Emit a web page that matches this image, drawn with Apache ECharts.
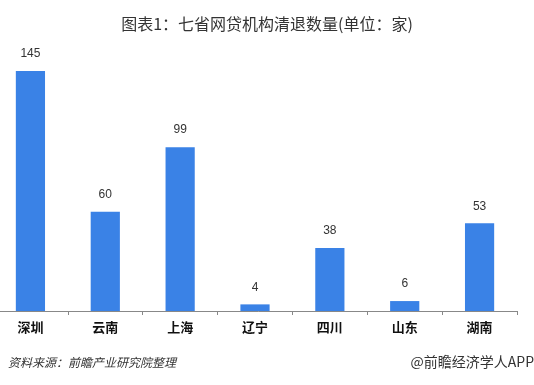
<!DOCTYPE html>
<html><head><meta charset="utf-8">
<script src="https://cdn.jsdelivr.net/npm/echarts@6/dist/echarts.min.js"></script>
<style>html,body{margin:0;padding:0;background:#fff}#c{width:534px;height:385px}</style>
</head><body><div id="c"></div>
<script>
const categories = ['深圳','云南','上海','辽宁','四川','山东','湖南'];
const values = [145, 60, 99, 4, 38, 6, 53];
const titleText = '图表1：七省网贷机构清退数量(单位：家)';
const sourceText = '资料来源：前瞻产业研究院整理';
const brandText = '@前瞻经济学人APP';

const chart = echarts.init(document.getElementById('c'), null, {renderer:'canvas'});
chart.setOption({
  backgroundColor: '#fff',
  animation: false,
  title: {
    text: titleText, left: 'center', top: 11,
    textStyle: {fontSize: 16, fontWeight: 'normal', color: '#333', fontFamily: 'Noto Sans CJK SC'}
  },
  grid: {left: -7, right: 17, top: 71, bottom: 74, containLabel: false, outerBoundsMode: 'none'},
  xAxis: {
    type: 'category', data: categories,
    axisLine: {lineStyle: {color: '#888', width: 1}},
    axisTick: {show: true, length: 4, lineStyle: {color: '#888'}},
    axisLabel: {fontSize: 13, fontWeight: 'bold', color: '#111', margin: 10, fontFamily: 'Noto Sans CJK SC'}
  },
  yAxis: {type: 'value', min: 0, max: 145, show: false, splitLine: {show: false}},
  series: [{
    type: 'bar', data: values, barWidth: '39%',
    itemStyle: {color: '#3a82e6'},
    label: {show: true, position: 'top', distance: 11, fontSize: 12, color: '#333', fontFamily: 'Liberation Sans'}
  }],
  graphic: [
    {type: 'text', left: 8, top: 356, style: {text: sourceText, fontSize: 12, fontStyle: 'italic', fill: '#333', fontFamily: 'Noto Sans CJK SC'}},
    {type: 'text', right: 0, top: 355, style: {text: brandText, fontSize: 14, fill: '#333', fontFamily: 'Noto Sans CJK SC'}}
  ]
});
</script></body></html>
